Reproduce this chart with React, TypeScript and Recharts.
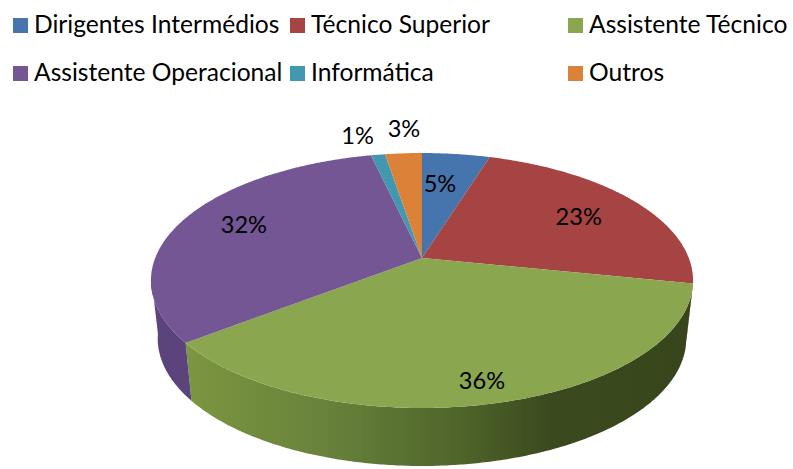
import React from "react";
import { PieChart, Pie, Cell, Legend } from "recharts";

const categories = ["Dirigentes Intermédios", "Técnico Superior", "Assistente Técnico", "Assistente Operacional", "Informática", "Outros"];
const shares = [4.8, 23.4, 36.3, 31.9, 1.0, 2.6];
const colours = ["#4675ae", "#a54442", "#8aa64e", "#735693", "#4298b0", "#dc8238"];
const wallColours = ["#38547c", "#7a3230", "url(#greenWall)", "#5b437c", "#30707f", "#a56129"];
const tableData = categories.map((name, i) => ({ name, value: shares[i] }));

const FONT = "Lato, Carlito, sans-serif";
const LEGEND_FONT_SIZE = 24.6;
const LABEL_FONT_SIZE = 23.6;
const PERSPECTIVE = 0.1765;
const SCALE_X = 0.9845;
const SCALE_Y = 0.4557;
const WALL_DROP = 58;
const WALL_SHRINK = 0.975;
const WALL_FROM = 100;
const WALL_TO = 262;
const LABEL_RADIUS = [0.684, 0.723, 0.862, 0.76, 1.24, 1.296];
const LABEL_TURN = [-2.3, 0.4, 0.3, 2.9, -2.5, 1.0];
const LEGEND_COLUMNS = [13, 290, 568];
const LEGEND_ROWS = [18, 66];

const project = (cx: number, cy: number, r: number, deg: number, f = 1) => {
  const t = (deg * Math.PI) / 180;
  const u = f * Math.sin(t);
  const v = -f * Math.cos(t);
  const w = 1 - PERSPECTIVE * v;
  return { x: cx + (r * SCALE_X * u) / w, y: cy + (r * SCALE_Y * v) / w };
};

const PerspectiveSlice = (props: any) => {
  const { cx, cy, outerRadius, startAngle, endAngle, fill, index } = props;
  const a = 90 - startAngle;
  const b = 90 - endAngle;
  const rim: string[] = [];
  for (let d = a; d <= b; d += 0.5) {
    const p = project(cx, cy, outerRadius, d);
    rim.push(`${p.x.toFixed(1)},${p.y.toFixed(1)}`);
  }
  const e = project(cx, cy, outerRadius, b);
  rim.push(`${e.x.toFixed(1)},${e.y.toFixed(1)}`);

  const wa = Math.max(a, WALL_FROM);
  const wb = Math.min(b, WALL_TO);
  const top: { x: number; y: number }[] = [];
  if (wb > wa) {
    for (let d = wa; d < wb; d += 0.5) top.push(project(cx, cy, outerRadius, d));
    top.push(project(cx, cy, outerRadius, wb));
  }
  const wall = top
    .map((p) => `${p.x.toFixed(1)},${p.y.toFixed(1)}`)
    .concat(
      [...top].reverse().map((p) => {
        const x = cx + (p.x - cx) * WALL_SHRINK;
        return `${x.toFixed(1)},${(p.y + WALL_DROP).toFixed(1)}`;
      })
    )
    .join(" ");
  const idx = index ?? colours.indexOf(fill);
  return (
    <g>
      {top.length > 0 && <polygon points={wall} fill={wallColours[idx]} />}
      <polygon points={`${cx},${cy} ${rim.join(" ")}`} fill={fill} />
    </g>
  );
};

const SliceLabel = (props: any) => {
  const { cx, cy, outerRadius, midAngle, index, value } = props;
  const p = project(cx, cy, outerRadius, 90 - midAngle + LABEL_TURN[index], LABEL_RADIUS[index]);
  return (
    <text x={p.x} y={p.y} textAnchor="middle" dominantBaseline="central" fill="#000" fontFamily={FONT} fontSize={LABEL_FONT_SIZE}>
      {`${Math.round(value)}%`}
    </text>
  );
};

const LegendBlock = () => (
  <div style={{ position: "relative", width: 793, height: 100, fontFamily: FONT, fontSize: LEGEND_FONT_SIZE, color: "#000" }}>
    {categories.map((name, i) => (
      <div key={name} style={{ position: "absolute", left: LEGEND_COLUMNS[i % 3], top: LEGEND_ROWS[Math.floor(i / 3)], whiteSpace: "nowrap" }}>
        <span style={{ position: "absolute", left: 0, top: 0, width: 15, height: 15, background: colours[i] }} />
        <span style={{ position: "absolute", left: 21, top: -7, lineHeight: "25px" }}>{name}</span>
      </div>
    ))}
  </div>
);

export default function App() {
  return (
    <div style={{ position: "absolute", left: 0, top: 0, width: 793, height: 469, background: "#fff" }}>
      <PieChart width={793} height={469} margin={{ top: 0, right: 0, bottom: 0, left: 0 }}>
        <defs>
          <linearGradient id="greenWall" gradientUnits="userSpaceOnUse" x1="185" x2="693" y1="0" y2="0">
            <stop offset="0" stopColor="#7c9641" />
            <stop offset="0.3" stopColor="#66803a" />
            <stop offset="0.55" stopColor="#4e6329" />
            <stop offset="0.72" stopColor="#3a4a1e" />
            <stop offset="1" stopColor="#38451c" />
          </linearGradient>
        </defs>
        <Legend content={<LegendBlock />} wrapperStyle={{ left: 0, top: 0, width: 793, height: 100 }} />
        <Pie
          data={tableData}
          dataKey="value"
          nameKey="name"
          cx={422}
          cy={258}
          outerRadius={271}
          startAngle={90}
          endAngle={-270}
          stroke="none"
          labelLine={false}
          label={SliceLabel}
          isAnimationActive={false}
          shape={PerspectiveSlice}
          inactiveShape={PerspectiveSlice}
        >
          {categories.map((name, i) => (
            <Cell key={name} fill={colours[i]} />
          ))}
        </Pie>
      </PieChart>
    </div>
  );
}
